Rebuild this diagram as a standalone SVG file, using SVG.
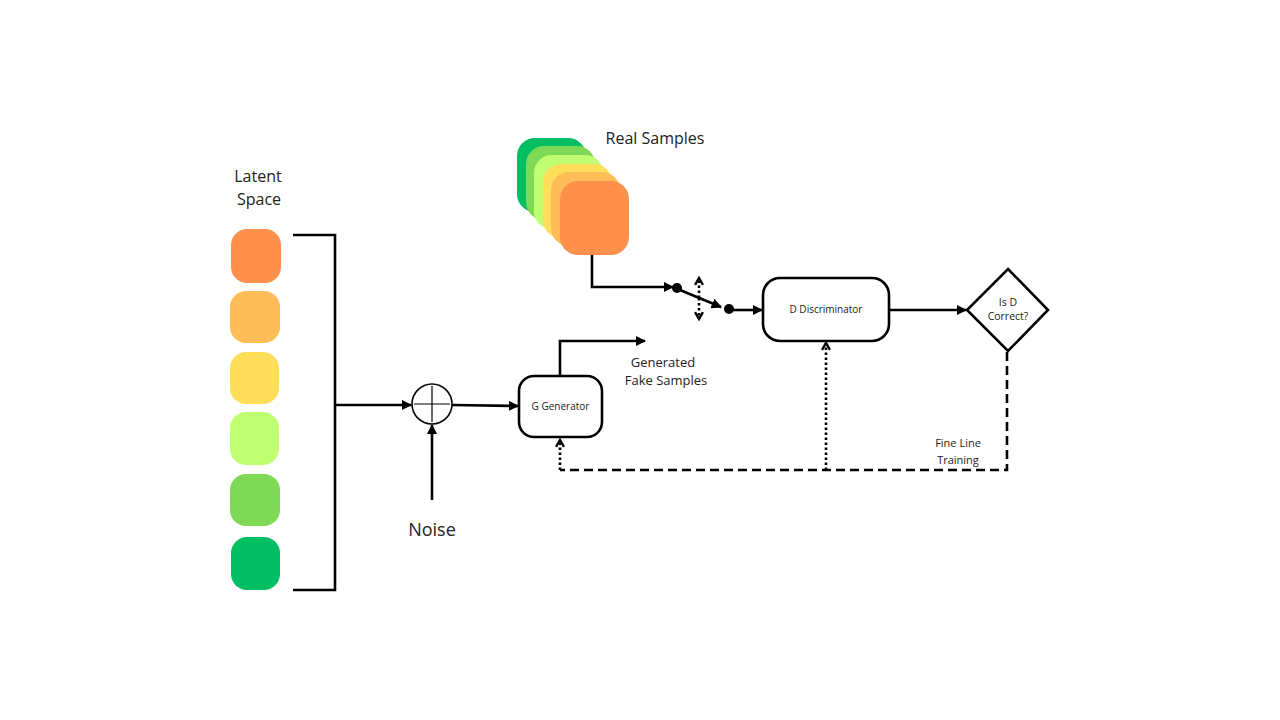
<svg xmlns="http://www.w3.org/2000/svg" width="1280" height="720" viewBox="0 0 1280 720">
<defs>
<marker id="tri" viewBox="0 0 10 10" refX="9" refY="5" markerWidth="4" markerHeight="4" orient="auto" markerUnits="strokeWidth">
<path d="M0,0 L10,5 L0,10 Z" fill="#000"/>
</marker>
<marker id="chev" viewBox="0 0 10 10" refX="8" refY="5" markerWidth="3.8" markerHeight="3.8" orient="auto" markerUnits="strokeWidth">
<path d="M1,1 L8,5 L1,9" fill="none" stroke="#000" stroke-width="2.4"/>
</marker>
</defs>
<style>
.t{font-family:"Open Sans","Liberation Sans",sans-serif;fill:#222;text-anchor:middle}
.ln{fill:none;stroke:#000;stroke-width:2.6}
.box{fill:#fff;stroke:#000;stroke-width:2.6}
.dot{fill:none;stroke:#000;stroke-width:2.6;stroke-dasharray:2.5 2.5}
.dash{fill:none;stroke:#000;stroke-width:2.6;stroke-dasharray:9 5}
</style>
<rect width="1280" height="720" fill="#fff"/>

<g id="latent">
<text class="t" x="258" y="182" font-size="16">Latent</text>
<text class="t" x="259" y="205" font-size="16">Space</text>
<rect x="231" y="229" width="50" height="54" rx="16" fill="#FF914D"/>
<rect x="230" y="291" width="50" height="52" rx="16" fill="#FFBD59"/>
<rect x="230" y="352" width="49" height="52" rx="16" fill="#FFDE59"/>
<rect x="230" y="412" width="49" height="53" rx="16" fill="#C1FF72"/>
<rect x="230" y="474" width="50" height="52" rx="16" fill="#7ED957"/>
<rect x="231" y="537" width="49" height="53" rx="16" fill="#00BF63"/>
</g>

<g id="real-samples">
<rect x="517" y="138" width="69" height="74" rx="18" fill="#00BF63"/>
<rect x="526" y="146" width="69" height="74" rx="18" fill="#7ED957"/>
<rect x="534" y="155" width="69" height="74" rx="18" fill="#C1FF72"/>
<rect x="543" y="164" width="69" height="74" rx="18" fill="#FFDE59"/>
<rect x="551" y="172" width="69" height="74" rx="18" fill="#FFBD59"/>
<rect x="560" y="181" width="69" height="74" rx="18" fill="#FF914D"/>
<text class="t" x="655" y="144" font-size="16">Real Samples</text>
</g>

<g id="sum">
<circle cx="432" cy="404" r="20" fill="#fff" stroke="#000" stroke-width="1.6"/>
<line x1="414" y1="404" x2="450" y2="404" stroke="#000" stroke-width="1.2"/>
<line x1="432" y1="386" x2="432" y2="422" stroke="#000" stroke-width="1.2"/>
</g>

<g id="noise">
<text class="t" x="432" y="536" font-size="18">Noise</text>
</g>

<g id="generator">
<rect class="box" x="519" y="376" width="83" height="61" rx="15"/>
<text class="t" x="560.5" y="410" font-size="10">G Generator</text>
</g>

<g id="fake-label">
<text class="t" x="663" y="367" font-size="13">Generated</text>
<text class="t" x="666" y="385" font-size="13">Fake Samples</text>
</g>

<g id="discriminator">
<rect class="box" x="763" y="278" width="126" height="63" rx="17"/>
<text class="t" x="826" y="313" font-size="10">D Discriminator</text>
</g>

<g id="decision">
<path class="box" d="M1008,269 L1048,310 L1008,351 L967,310 Z"/>
<text class="t" x="1008" y="306" font-size="10.5">Is D</text>
<text class="t" x="1008" y="320" font-size="10.5">Correct?</text>
</g>

<g id="training-label">
<text class="t" x="958" y="447" font-size="11">Fine Line</text>
<text class="t" x="958" y="464" font-size="11">Training</text>
</g>

<g id="connectors">
<path class="ln" d="M293,235 H335 V590 H293"/>
<line class="ln" x1="335" y1="405" x2="411" y2="405" marker-end="url(#tri)"/>
<line class="ln" x1="432" y1="500" x2="432" y2="425" marker-end="url(#tri)"/>
<line class="ln" x1="452" y1="405" x2="518" y2="406" marker-end="url(#tri)"/>
<path class="ln" d="M560,376 V341 H645" marker-end="url(#tri)"/>
<path class="ln" d="M592,255 V287 H673" marker-end="url(#tri)"/>
<circle cx="677" cy="288" r="5" fill="#000"/>
<line class="ln" x1="680" y1="290" x2="721" y2="307" marker-end="url(#tri)"/>
<circle cx="729" cy="309" r="5" fill="#000"/>
<line class="ln" x1="733" y1="310" x2="762" y2="310" marker-end="url(#tri)"/>
<line class="dot" x1="699" y1="298" x2="699" y2="278" marker-end="url(#chev)"/>
<line class="dot" x1="699" y1="298" x2="699" y2="319" marker-end="url(#chev)"/>
<line class="ln" x1="889" y1="310" x2="966" y2="310" marker-end="url(#tri)"/>
<path class="dash" d="M1007,352 V470 H560"/>
<line class="dot" x1="560" y1="470" x2="560" y2="440" marker-end="url(#chev)"/>
<line class="dot" x1="826" y1="470" x2="826" y2="343" marker-end="url(#chev)"/>
</g>
</svg>
